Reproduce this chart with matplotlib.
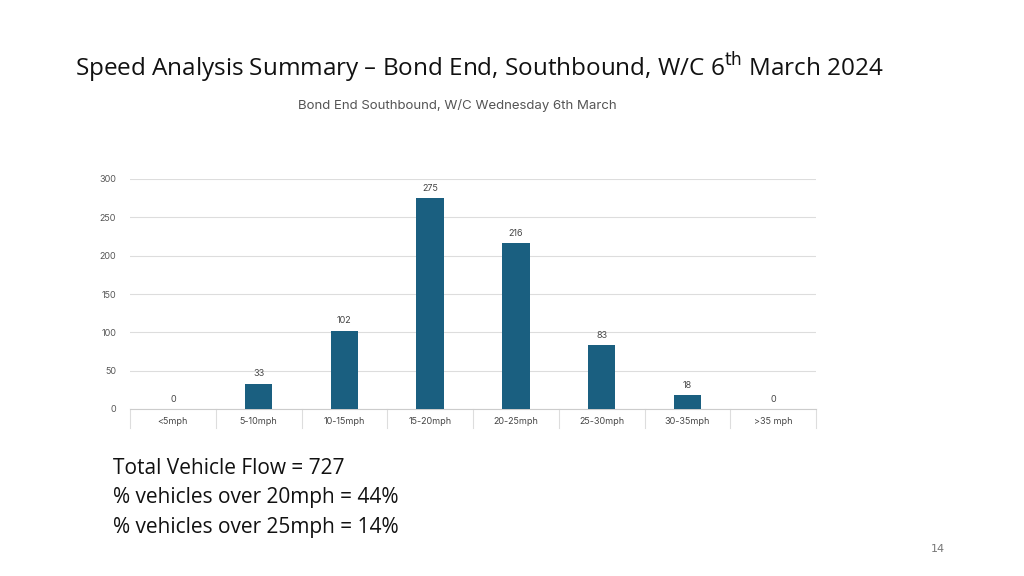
import matplotlib
matplotlib.use("Agg")
import matplotlib.pyplot as plt

categories = ["<5mph", "5-10mph", "10-15mph", "15-20mph", "20-25mph", "25-30mph", "30-35mph", ">35 mph"]
counts = [0, 33, 102, 275, 216, 83, 18, 0]
yticks = [0, 50, 100, 150, 200, 250, 300]

fig = plt.figure(figsize=(10.24, 5.76), dpi=100)
fig.patch.set_facecolor("white")
ax = fig.add_axes([130/1024, 1-409/576, 686/1024, 230/576])
x = range(len(categories))
ax.bar(x, counts, width=0.32, color="#1a5f80", zorder=3)
for i, v in enumerate(counts):
    ax.text(i, v + 7, str(v), ha="center", va="bottom", fontsize=6.5, color="#444444", family="Inter")
ax.set_xlim(-0.5, len(categories) - 0.5)
ax.set_ylim(0, 300)
ax.set_yticks(yticks)
ax.set_yticklabels([str(t) for t in yticks], fontsize=6.5, color="#555555", family="Inter")
ax.tick_params(axis="y", length=0, pad=10)
ax.yaxis.grid(True, color="#dddddd", linewidth=0.8, zorder=0)
ax.set_xticks(list(x))
ax.set_xticklabels(categories, fontsize=6.5, color="#444444", family="Inter")
ax.tick_params(axis="x", length=0, pad=6)
for s in ["top", "right", "left"]:
    ax.spines[s].set_visible(False)
ax.spines["bottom"].set_color("#cccccc")
for b in [i - 0.5 for i in range(len(categories) + 1)]:
    ax.plot([b, b], [0, -25], color="#dddddd", linewidth=0.8, clip_on=False)

fig.text(75/1024, 1-68/576, "Speed Analysis Summary – Bond End, Southbound, W/C 6$^{\\mathrm{th}}$ March 2024",
         fontsize=17.5, family="Open Sans", va="center", color="#111111")
fig.text(457/1024, 1-106/576, "Bond End Southbound, W/C Wednesday 6th March", fontsize=9.5,
         family="Inter", ha="center", va="center", color="#555555")
summary = ["Total Vehicle Flow = 727", "% vehicles over 20mph = 44%", "% vehicles over 25mph = 14%"]
for k, line in enumerate(summary):
    fig.text(113/1024, 1-(468 + 30*k)/576, line, fontsize=15, family="Open Sans", va="center", color="#111111")
fig.text(938/1024, 1-549/576, "14", fontsize=8, color="#777777", ha="center", va="center")
fig.savefig("out.png", dpi=100)
